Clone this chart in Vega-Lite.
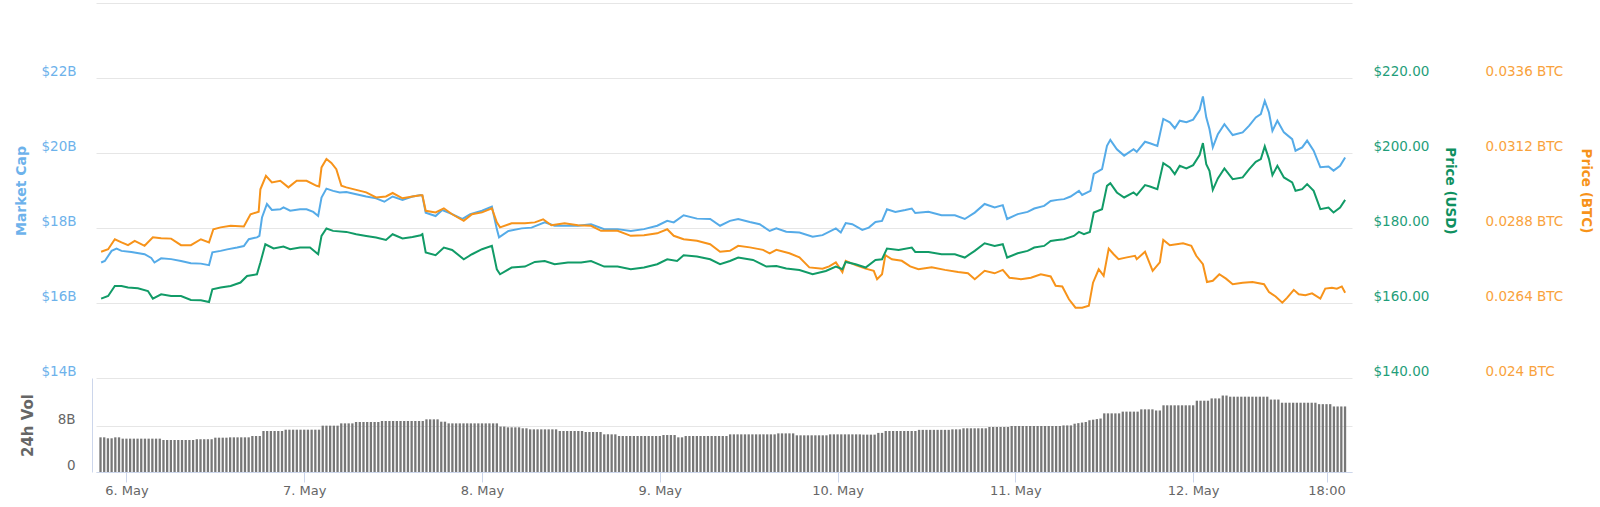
{
  "$schema": "https://vega.github.io/schema/vega-lite/v6.json",
  "description": "Market cap, price (USD), price (BTC) and 24h volume over 7 days.",
  "autosize": "none",
  "width": 1256,
  "height": 469,
  "padding": {"left": 96, "top": 3, "right": 248, "bottom": 35},
  "background": "white",
  "datasets": {
    "mc": [
      {"t": "2019-05-05T20:35", "v": 17.08}, {"t": "2019-05-05T21:05", "v": 17.12}, {"t": "2019-05-05T22:00", "v": 17.39},
      {"t": "2019-05-05T22:40", "v": 17.45}, {"t": "2019-05-05T23:20", "v": 17.39}, {"t": "2019-05-06T00:40", "v": 17.36},
      {"t": "2019-05-06T02:27", "v": 17.30}, {"t": "2019-05-06T03:21", "v": 17.20}, {"t": "2019-05-06T03:47", "v": 17.08},
      {"t": "2019-05-06T04:41", "v": 17.19}, {"t": "2019-05-06T06:02", "v": 17.17}, {"t": "2019-05-06T07:22", "v": 17.12},
      {"t": "2019-05-06T08:42", "v": 17.06}, {"t": "2019-05-06T10:03", "v": 17.05}, {"t": "2019-05-06T11:09", "v": 17.01},
      {"t": "2019-05-06T11:36", "v": 17.35}, {"t": "2019-05-06T12:43", "v": 17.39}, {"t": "2019-05-06T13:36", "v": 17.43},
      {"t": "2019-05-06T14:57", "v": 17.48}, {"t": "2019-05-06T15:51", "v": 17.52}, {"t": "2019-05-06T16:31", "v": 17.70},
      {"t": "2019-05-06T17:37", "v": 17.75}, {"t": "2019-05-06T17:57", "v": 17.79}, {"t": "2019-05-06T18:18", "v": 18.28},
      {"t": "2019-05-06T18:58", "v": 18.64}, {"t": "2019-05-06T19:38", "v": 18.48}, {"t": "2019-05-06T20:46", "v": 18.50},
      {"t": "2019-05-06T21:12", "v": 18.55}, {"t": "2019-05-06T22:06", "v": 18.46}, {"t": "2019-05-06T23:26", "v": 18.50},
      {"t": "2019-05-07T00:19", "v": 18.50}, {"t": "2019-05-07T01:13", "v": 18.43}, {"t": "2019-05-07T01:53", "v": 18.32},
      {"t": "2019-05-07T02:20", "v": 18.81}, {"t": "2019-05-07T03:00", "v": 19.05}, {"t": "2019-05-07T03:54", "v": 18.99},
      {"t": "2019-05-07T04:48", "v": 18.95}, {"t": "2019-05-07T05:41", "v": 18.96}, {"t": "2019-05-07T07:01", "v": 18.90},
      {"t": "2019-05-07T08:22", "v": 18.84}, {"t": "2019-05-07T09:42", "v": 18.79}, {"t": "2019-05-07T10:49", "v": 18.70},
      {"t": "2019-05-07T11:56", "v": 18.84}, {"t": "2019-05-07T13:16", "v": 18.75}, {"t": "2019-05-07T14:37", "v": 18.84},
      {"t": "2019-05-07T15:44", "v": 18.88}, {"t": "2019-05-07T15:57", "v": 18.86}, {"t": "2019-05-07T16:24", "v": 18.41},
      {"t": "2019-05-07T17:44", "v": 18.32}, {"t": "2019-05-07T18:38", "v": 18.48}, {"t": "2019-05-07T19:58", "v": 18.37},
      {"t": "2019-05-07T21:19", "v": 18.24}, {"t": "2019-05-07T22:25", "v": 18.37}, {"t": "2019-05-08T00:00", "v": 18.46},
      {"t": "2019-05-08T01:20", "v": 18.57}, {"t": "2019-05-08T02:00", "v": 17.97}, {"t": "2019-05-08T02:18", "v": 17.75},
      {"t": "2019-05-08T03:34", "v": 17.92}, {"t": "2019-05-08T05:21", "v": 17.99}, {"t": "2019-05-08T06:41", "v": 18.01},
      {"t": "2019-05-08T08:28", "v": 18.15}, {"t": "2019-05-08T09:48", "v": 18.06}, {"t": "2019-05-08T11:36", "v": 18.06},
      {"t": "2019-05-08T12:56", "v": 18.06}, {"t": "2019-05-08T14:43", "v": 18.10}, {"t": "2019-05-08T16:30", "v": 17.97},
      {"t": "2019-05-08T18:18", "v": 17.97}, {"t": "2019-05-08T20:05", "v": 17.92}, {"t": "2019-05-08T21:52", "v": 17.97},
      {"t": "2019-05-08T23:39", "v": 18.06}, {"t": "2019-05-09T01:00", "v": 18.19}, {"t": "2019-05-09T01:53", "v": 18.15},
      {"t": "2019-05-09T03:13", "v": 18.34}, {"t": "2019-05-09T05:01", "v": 18.25}, {"t": "2019-05-09T06:48", "v": 18.24},
      {"t": "2019-05-09T08:08", "v": 18.06}, {"t": "2019-05-09T09:28", "v": 18.19}, {"t": "2019-05-09T10:35", "v": 18.24},
      {"t": "2019-05-09T12:09", "v": 18.16}, {"t": "2019-05-09T13:29", "v": 18.10}, {"t": "2019-05-09T14:50", "v": 17.92},
      {"t": "2019-05-09T15:44", "v": 17.99}, {"t": "2019-05-09T17:04", "v": 17.90}, {"t": "2019-05-09T18:51", "v": 17.88},
      {"t": "2019-05-09T20:38", "v": 17.77}, {"t": "2019-05-09T21:58", "v": 17.81}, {"t": "2019-05-09T23:46", "v": 17.99},
      {"t": "2019-05-10T00:26", "v": 17.88}, {"t": "2019-05-10T01:06", "v": 18.13}, {"t": "2019-05-10T01:59", "v": 18.10},
      {"t": "2019-05-10T03:20", "v": 17.95}, {"t": "2019-05-10T04:13", "v": 18.01}, {"t": "2019-05-10T05:07", "v": 18.16},
      {"t": "2019-05-10T06:00", "v": 18.19}, {"t": "2019-05-10T06:40", "v": 18.50}, {"t": "2019-05-10T07:48", "v": 18.43},
      {"t": "2019-05-10T09:08", "v": 18.48}, {"t": "2019-05-10T10:01", "v": 18.52}, {"t": "2019-05-10T10:29", "v": 18.40},
      {"t": "2019-05-10T12:16", "v": 18.43}, {"t": "2019-05-10T14:02", "v": 18.34}, {"t": "2019-05-10T15:50", "v": 18.34},
      {"t": "2019-05-10T17:10", "v": 18.24}, {"t": "2019-05-10T18:31", "v": 18.41}, {"t": "2019-05-10T19:51", "v": 18.64},
      {"t": "2019-05-10T21:12", "v": 18.55}, {"t": "2019-05-10T22:18", "v": 18.61}, {"t": "2019-05-10T22:53", "v": 18.24},
      {"t": "2019-05-11T00:19", "v": 18.37}, {"t": "2019-05-11T01:39", "v": 18.43}, {"t": "2019-05-11T02:33", "v": 18.52},
      {"t": "2019-05-11T03:53", "v": 18.59}, {"t": "2019-05-11T04:46", "v": 18.72}, {"t": "2019-05-11T05:40", "v": 18.75},
      {"t": "2019-05-11T06:34", "v": 18.77}, {"t": "2019-05-11T07:27", "v": 18.84}, {"t": "2019-05-11T08:35", "v": 18.99},
      {"t": "2019-05-11T09:01", "v": 18.88}, {"t": "2019-05-11T10:08", "v": 18.99}, {"t": "2019-05-11T10:35", "v": 19.44},
      {"t": "2019-05-11T11:42", "v": 19.57}, {"t": "2019-05-11T12:22", "v": 20.19}, {"t": "2019-05-11T12:49", "v": 20.35},
      {"t": "2019-05-11T13:42", "v": 20.10}, {"t": "2019-05-11T14:41", "v": 19.93}, {"t": "2019-05-11T15:57", "v": 20.10},
      {"t": "2019-05-11T16:23", "v": 20.03}, {"t": "2019-05-11T17:30", "v": 20.30}, {"t": "2019-05-11T18:10", "v": 20.26},
      {"t": "2019-05-11T19:10", "v": 20.19}, {"t": "2019-05-11T19:58", "v": 20.91}, {"t": "2019-05-11T20:51", "v": 20.82},
      {"t": "2019-05-11T21:31", "v": 20.66}, {"t": "2019-05-11T22:11", "v": 20.86}, {"t": "2019-05-11T23:05", "v": 20.82},
      {"t": "2019-05-12T00:00", "v": 20.89}, {"t": "2019-05-12T00:52", "v": 21.15}, {"t": "2019-05-12T01:19", "v": 21.51},
      {"t": "2019-05-12T01:46", "v": 20.95}, {"t": "2019-05-12T02:12", "v": 20.64}, {"t": "2019-05-12T02:39", "v": 20.15},
      {"t": "2019-05-12T03:20", "v": 20.50}, {"t": "2019-05-12T04:13", "v": 20.77}, {"t": "2019-05-12T05:20", "v": 20.48},
      {"t": "2019-05-12T06:41", "v": 20.55}, {"t": "2019-05-12T07:34", "v": 20.73}, {"t": "2019-05-12T08:27", "v": 20.95},
      {"t": "2019-05-12T09:08", "v": 21.04}, {"t": "2019-05-12T09:40", "v": 21.39}, {"t": "2019-05-12T10:14", "v": 21.08},
      {"t": "2019-05-12T10:42", "v": 20.59}, {"t": "2019-05-12T11:22", "v": 20.86}, {"t": "2019-05-12T12:15", "v": 20.55},
      {"t": "2019-05-12T13:22", "v": 20.37}, {"t": "2019-05-12T13:49", "v": 20.06}, {"t": "2019-05-12T14:43", "v": 20.15},
      {"t": "2019-05-12T15:23", "v": 20.33}, {"t": "2019-05-12T16:16", "v": 20.06}, {"t": "2019-05-12T17:10", "v": 19.62},
      {"t": "2019-05-12T18:16", "v": 19.64}, {"t": "2019-05-12T18:57", "v": 19.53}, {"t": "2019-05-12T19:50", "v": 19.66},
      {"t": "2019-05-12T20:31", "v": 19.88}
    ],
    "usd": [
      {"t": "2019-05-05T20:35", "v": 161.17}, {"t": "2019-05-05T21:32", "v": 161.87}, {"t": "2019-05-05T22:26", "v": 164.54},
      {"t": "2019-05-05T23:20", "v": 164.54}, {"t": "2019-05-06T00:13", "v": 164.11}, {"t": "2019-05-06T01:33", "v": 163.92},
      {"t": "2019-05-06T02:54", "v": 163.20}, {"t": "2019-05-06T03:34", "v": 161.17}, {"t": "2019-05-06T04:41", "v": 162.32},
      {"t": "2019-05-06T06:02", "v": 161.87}, {"t": "2019-05-06T07:22", "v": 161.87}, {"t": "2019-05-06T08:42", "v": 160.80},
      {"t": "2019-05-06T10:03", "v": 160.72}, {"t": "2019-05-06T11:09", "v": 160.27}, {"t": "2019-05-06T11:36", "v": 163.66},
      {"t": "2019-05-06T12:43", "v": 164.11}, {"t": "2019-05-06T14:04", "v": 164.54}, {"t": "2019-05-06T15:24", "v": 165.45},
      {"t": "2019-05-06T16:17", "v": 167.21}, {"t": "2019-05-06T17:37", "v": 167.66}, {"t": "2019-05-06T18:05", "v": 170.79},
      {"t": "2019-05-06T18:45", "v": 175.67}, {"t": "2019-05-06T19:52", "v": 174.53}, {"t": "2019-05-06T21:12", "v": 175.06},
      {"t": "2019-05-06T22:06", "v": 174.34}, {"t": "2019-05-06T23:26", "v": 174.79}, {"t": "2019-05-07T00:47", "v": 174.79},
      {"t": "2019-05-07T01:53", "v": 173.00}, {"t": "2019-05-07T02:20", "v": 177.89}, {"t": "2019-05-07T03:00", "v": 179.87},
      {"t": "2019-05-07T03:54", "v": 179.23}, {"t": "2019-05-07T05:41", "v": 178.96}, {"t": "2019-05-07T07:01", "v": 178.34},
      {"t": "2019-05-07T08:22", "v": 177.89}, {"t": "2019-05-07T09:42", "v": 177.46}, {"t": "2019-05-07T11:02", "v": 176.82},
      {"t": "2019-05-07T11:56", "v": 178.34}, {"t": "2019-05-07T13:16", "v": 177.20}, {"t": "2019-05-07T14:37", "v": 177.60},
      {"t": "2019-05-07T15:44", "v": 178.08}, {"t": "2019-05-07T15:57", "v": 178.34}, {"t": "2019-05-07T16:24", "v": 173.46},
      {"t": "2019-05-07T17:44", "v": 172.74}, {"t": "2019-05-07T18:51", "v": 174.79}, {"t": "2019-05-07T19:58", "v": 174.15},
      {"t": "2019-05-07T21:32", "v": 171.67}, {"t": "2019-05-07T22:39", "v": 173.00}, {"t": "2019-05-08T00:00", "v": 174.34},
      {"t": "2019-05-08T01:20", "v": 175.22}, {"t": "2019-05-08T02:00", "v": 169.00}, {"t": "2019-05-08T02:26", "v": 167.66},
      {"t": "2019-05-08T04:00", "v": 169.45}, {"t": "2019-05-08T05:47", "v": 169.72}, {"t": "2019-05-08T07:08", "v": 170.95},
      {"t": "2019-05-08T08:28", "v": 171.21}, {"t": "2019-05-08T09:48", "v": 170.33}, {"t": "2019-05-08T11:36", "v": 170.79},
      {"t": "2019-05-08T13:23", "v": 170.79}, {"t": "2019-05-08T14:43", "v": 171.21}, {"t": "2019-05-08T16:30", "v": 169.72},
      {"t": "2019-05-08T18:18", "v": 169.72}, {"t": "2019-05-08T20:05", "v": 169.00}, {"t": "2019-05-08T21:52", "v": 169.45},
      {"t": "2019-05-08T23:39", "v": 170.33}, {"t": "2019-05-09T01:00", "v": 171.67}, {"t": "2019-05-09T02:20", "v": 171.21},
      {"t": "2019-05-09T03:13", "v": 172.74}, {"t": "2019-05-09T05:01", "v": 172.39}, {"t": "2019-05-09T06:48", "v": 171.67},
      {"t": "2019-05-09T08:08", "v": 170.33}, {"t": "2019-05-09T09:28", "v": 171.21}, {"t": "2019-05-09T10:35", "v": 172.12},
      {"t": "2019-05-09T12:35", "v": 171.48}, {"t": "2019-05-09T14:23", "v": 169.72}, {"t": "2019-05-09T15:44", "v": 169.88},
      {"t": "2019-05-09T17:04", "v": 169.19}, {"t": "2019-05-09T18:51", "v": 168.81}, {"t": "2019-05-09T20:38", "v": 167.66},
      {"t": "2019-05-09T22:25", "v": 168.54}, {"t": "2019-05-09T23:46", "v": 169.72}, {"t": "2019-05-10T00:39", "v": 169.00},
      {"t": "2019-05-10T01:06", "v": 170.95}, {"t": "2019-05-10T02:26", "v": 170.33}, {"t": "2019-05-10T03:47", "v": 169.45},
      {"t": "2019-05-10T05:07", "v": 171.48}, {"t": "2019-05-10T06:00", "v": 171.67}, {"t": "2019-05-10T06:40", "v": 174.53},
      {"t": "2019-05-10T08:14", "v": 174.15}, {"t": "2019-05-10T10:01", "v": 174.79}, {"t": "2019-05-10T10:29", "v": 173.62},
      {"t": "2019-05-10T12:16", "v": 173.62}, {"t": "2019-05-10T14:02", "v": 173.00}, {"t": "2019-05-10T15:50", "v": 173.00},
      {"t": "2019-05-10T17:10", "v": 172.12}, {"t": "2019-05-10T18:31", "v": 173.89}, {"t": "2019-05-10T19:51", "v": 175.94},
      {"t": "2019-05-10T21:12", "v": 175.22}, {"t": "2019-05-10T22:18", "v": 175.67}, {"t": "2019-05-10T22:53", "v": 172.12},
      {"t": "2019-05-11T00:19", "v": 173.27}, {"t": "2019-05-11T01:39", "v": 173.89}, {"t": "2019-05-11T02:33", "v": 174.79},
      {"t": "2019-05-11T03:53", "v": 175.22}, {"t": "2019-05-11T04:46", "v": 176.56}, {"t": "2019-05-11T05:40", "v": 176.82},
      {"t": "2019-05-11T06:34", "v": 177.01}, {"t": "2019-05-11T07:54", "v": 177.89}, {"t": "2019-05-11T08:35", "v": 178.96},
      {"t": "2019-05-11T09:15", "v": 178.34}, {"t": "2019-05-11T10:03", "v": 178.96}, {"t": "2019-05-11T10:35", "v": 184.14},
      {"t": "2019-05-11T11:42", "v": 185.02}, {"t": "2019-05-11T12:22", "v": 191.24}, {"t": "2019-05-11T12:49", "v": 191.96},
      {"t": "2019-05-11T13:42", "v": 189.48}, {"t": "2019-05-11T14:41", "v": 188.14}, {"t": "2019-05-11T15:57", "v": 189.48},
      {"t": "2019-05-11T16:23", "v": 188.76}, {"t": "2019-05-11T17:30", "v": 191.43}, {"t": "2019-05-11T18:10", "v": 191.08},
      {"t": "2019-05-11T19:10", "v": 190.36}, {"t": "2019-05-11T19:58", "v": 197.30}, {"t": "2019-05-11T20:51", "v": 196.15},
      {"t": "2019-05-11T21:31", "v": 194.37}, {"t": "2019-05-11T22:11", "v": 196.58}, {"t": "2019-05-11T23:05", "v": 195.89},
      {"t": "2019-05-12T00:00", "v": 196.77}, {"t": "2019-05-12T00:52", "v": 199.44}, {"t": "2019-05-12T01:19", "v": 202.64},
      {"t": "2019-05-12T01:46", "v": 197.04}, {"t": "2019-05-12T02:12", "v": 195.25}, {"t": "2019-05-12T02:39", "v": 190.17},
      {"t": "2019-05-12T03:20", "v": 193.22}, {"t": "2019-05-12T04:13", "v": 195.89}, {"t": "2019-05-12T05:20", "v": 193.03},
      {"t": "2019-05-12T06:41", "v": 193.48}, {"t": "2019-05-12T07:34", "v": 195.70}, {"t": "2019-05-12T08:27", "v": 197.65},
      {"t": "2019-05-12T09:08", "v": 198.37}, {"t": "2019-05-12T09:40", "v": 201.76}, {"t": "2019-05-12T10:14", "v": 198.37},
      {"t": "2019-05-12T10:42", "v": 194.10}, {"t": "2019-05-12T11:22", "v": 196.58}, {"t": "2019-05-12T12:15", "v": 193.48},
      {"t": "2019-05-12T13:22", "v": 192.15}, {"t": "2019-05-12T13:49", "v": 189.91}, {"t": "2019-05-12T14:43", "v": 190.36},
      {"t": "2019-05-12T15:23", "v": 191.70}, {"t": "2019-05-12T16:16", "v": 189.91}, {"t": "2019-05-12T17:10", "v": 185.02},
      {"t": "2019-05-12T18:16", "v": 185.47}, {"t": "2019-05-12T18:57", "v": 184.14}, {"t": "2019-05-12T19:50", "v": 185.47},
      {"t": "2019-05-12T20:31", "v": 187.50}
    ],
    "btc": [
      {"t": "2019-05-05T20:35", "v": 0.02804}, {"t": "2019-05-05T21:32", "v": 0.02812}, {"t": "2019-05-05T22:26", "v": 0.02844},
      {"t": "2019-05-05T23:20", "v": 0.02834}, {"t": "2019-05-06T00:13", "v": 0.02825}, {"t": "2019-05-06T01:07", "v": 0.02839},
      {"t": "2019-05-06T02:27", "v": 0.02823}, {"t": "2019-05-06T03:34", "v": 0.0285}, {"t": "2019-05-06T04:41", "v": 0.02847},
      {"t": "2019-05-06T06:02", "v": 0.02846}, {"t": "2019-05-06T07:22", "v": 0.02825}, {"t": "2019-05-06T08:42", "v": 0.02825},
      {"t": "2019-05-06T10:03", "v": 0.02844}, {"t": "2019-05-06T11:09", "v": 0.02834}, {"t": "2019-05-06T11:44", "v": 0.02876},
      {"t": "2019-05-06T12:43", "v": 0.02882}, {"t": "2019-05-06T14:04", "v": 0.02887}, {"t": "2019-05-06T15:51", "v": 0.02885},
      {"t": "2019-05-06T16:45", "v": 0.02924}, {"t": "2019-05-06T17:51", "v": 0.02932}, {"t": "2019-05-06T18:05", "v": 0.03004},
      {"t": "2019-05-06T18:50", "v": 0.03047}, {"t": "2019-05-06T19:38", "v": 0.03026}, {"t": "2019-05-06T20:46", "v": 0.03031},
      {"t": "2019-05-06T21:52", "v": 0.0301}, {"t": "2019-05-06T22:59", "v": 0.03031}, {"t": "2019-05-07T00:19", "v": 0.03031},
      {"t": "2019-05-07T01:40", "v": 0.03015}, {"t": "2019-05-07T02:01", "v": 0.03013}, {"t": "2019-05-07T02:20", "v": 0.03074},
      {"t": "2019-05-07T03:00", "v": 0.03101}, {"t": "2019-05-07T03:40", "v": 0.03088}, {"t": "2019-05-07T04:20", "v": 0.03068},
      {"t": "2019-05-07T05:01", "v": 0.03015}, {"t": "2019-05-07T05:41", "v": 0.0301}, {"t": "2019-05-07T07:01", "v": 0.03002},
      {"t": "2019-05-07T08:22", "v": 0.02994}, {"t": "2019-05-07T09:42", "v": 0.02978}, {"t": "2019-05-07T11:02", "v": 0.02981},
      {"t": "2019-05-07T11:56", "v": 0.02992}, {"t": "2019-05-07T13:16", "v": 0.02975}, {"t": "2019-05-07T14:37", "v": 0.02981},
      {"t": "2019-05-07T15:44", "v": 0.02985}, {"t": "2019-05-07T15:57", "v": 0.02985}, {"t": "2019-05-07T16:24", "v": 0.02935},
      {"t": "2019-05-07T17:44", "v": 0.0293}, {"t": "2019-05-07T18:51", "v": 0.02943}, {"t": "2019-05-07T19:58", "v": 0.02924},
      {"t": "2019-05-07T21:32", "v": 0.02903}, {"t": "2019-05-07T22:39", "v": 0.02924}, {"t": "2019-05-08T00:00", "v": 0.0293},
      {"t": "2019-05-08T01:20", "v": 0.02943}, {"t": "2019-05-08T02:00", "v": 0.02898}, {"t": "2019-05-08T02:26", "v": 0.02882},
      {"t": "2019-05-08T04:00", "v": 0.02895}, {"t": "2019-05-08T05:47", "v": 0.02895}, {"t": "2019-05-08T07:08", "v": 0.02898},
      {"t": "2019-05-08T08:15", "v": 0.02908}, {"t": "2019-05-08T09:22", "v": 0.02889}, {"t": "2019-05-08T11:09", "v": 0.02895},
      {"t": "2019-05-08T12:56", "v": 0.02889}, {"t": "2019-05-08T14:43", "v": 0.02887}, {"t": "2019-05-08T16:04", "v": 0.02871},
      {"t": "2019-05-08T18:18", "v": 0.02871}, {"t": "2019-05-08T20:05", "v": 0.02855}, {"t": "2019-05-08T21:52", "v": 0.02857},
      {"t": "2019-05-08T23:39", "v": 0.02863}, {"t": "2019-05-09T01:00", "v": 0.02876}, {"t": "2019-05-09T01:53", "v": 0.02855},
      {"t": "2019-05-09T03:13", "v": 0.02844}, {"t": "2019-05-09T05:01", "v": 0.02839}, {"t": "2019-05-09T06:48", "v": 0.02828},
      {"t": "2019-05-09T08:08", "v": 0.02804}, {"t": "2019-05-09T09:28", "v": 0.02807}, {"t": "2019-05-09T10:35", "v": 0.02823},
      {"t": "2019-05-09T12:09", "v": 0.02818}, {"t": "2019-05-09T13:56", "v": 0.0281}, {"t": "2019-05-09T14:50", "v": 0.02799},
      {"t": "2019-05-09T15:44", "v": 0.0281}, {"t": "2019-05-09T17:30", "v": 0.02799}, {"t": "2019-05-09T18:51", "v": 0.02786},
      {"t": "2019-05-09T20:11", "v": 0.02754}, {"t": "2019-05-09T21:58", "v": 0.0275}, {"t": "2019-05-09T22:52", "v": 0.02757},
      {"t": "2019-05-09T23:46", "v": 0.0277}, {"t": "2019-05-10T00:39", "v": 0.02739}, {"t": "2019-05-10T01:06", "v": 0.02775},
      {"t": "2019-05-10T02:26", "v": 0.02761}, {"t": "2019-05-10T03:47", "v": 0.0275}, {"t": "2019-05-10T04:53", "v": 0.02743},
      {"t": "2019-05-10T05:20", "v": 0.02716}, {"t": "2019-05-10T06:00", "v": 0.02732}, {"t": "2019-05-10T06:27", "v": 0.02793},
      {"t": "2019-05-10T07:20", "v": 0.0278}, {"t": "2019-05-10T08:40", "v": 0.02775}, {"t": "2019-05-10T09:48", "v": 0.02757},
      {"t": "2019-05-10T10:55", "v": 0.02748}, {"t": "2019-05-10T12:42", "v": 0.02754}, {"t": "2019-05-10T14:29", "v": 0.02746},
      {"t": "2019-05-10T16:16", "v": 0.02739}, {"t": "2019-05-10T17:36", "v": 0.02735}, {"t": "2019-05-10T18:31", "v": 0.02716},
      {"t": "2019-05-10T19:51", "v": 0.02743}, {"t": "2019-05-10T21:12", "v": 0.02735}, {"t": "2019-05-10T22:18", "v": 0.02746},
      {"t": "2019-05-10T23:12", "v": 0.02721}, {"t": "2019-05-11T00:45", "v": 0.02716}, {"t": "2019-05-11T02:06", "v": 0.02721},
      {"t": "2019-05-11T03:26", "v": 0.02732}, {"t": "2019-05-11T04:46", "v": 0.02725}, {"t": "2019-05-11T05:26", "v": 0.02695},
      {"t": "2019-05-11T06:20", "v": 0.02693}, {"t": "2019-05-11T07:14", "v": 0.02652}, {"t": "2019-05-11T08:07", "v": 0.02625},
      {"t": "2019-05-11T09:01", "v": 0.02625}, {"t": "2019-05-11T09:55", "v": 0.02631}, {"t": "2019-05-11T10:29", "v": 0.02705},
      {"t": "2019-05-11T11:15", "v": 0.02748}, {"t": "2019-05-11T11:55", "v": 0.02727}, {"t": "2019-05-11T12:36", "v": 0.02814},
      {"t": "2019-05-11T13:16", "v": 0.02796}, {"t": "2019-05-11T13:56", "v": 0.0278}, {"t": "2019-05-11T15:03", "v": 0.02786},
      {"t": "2019-05-11T16:09", "v": 0.02791}, {"t": "2019-05-11T16:23", "v": 0.0278}, {"t": "2019-05-11T17:30", "v": 0.02804},
      {"t": "2019-05-11T18:32", "v": 0.02743}, {"t": "2019-05-11T19:30", "v": 0.0277}, {"t": "2019-05-11T19:58", "v": 0.02842},
      {"t": "2019-05-11T20:51", "v": 0.02825}, {"t": "2019-05-11T21:45", "v": 0.02828}, {"t": "2019-05-11T22:38", "v": 0.02831},
      {"t": "2019-05-11T23:45", "v": 0.02823}, {"t": "2019-05-12T00:25", "v": 0.02791}, {"t": "2019-05-12T01:19", "v": 0.02764},
      {"t": "2019-05-12T01:52", "v": 0.02707}, {"t": "2019-05-12T02:39", "v": 0.02711}, {"t": "2019-05-12T03:32", "v": 0.02732},
      {"t": "2019-05-12T04:26", "v": 0.02718}, {"t": "2019-05-12T05:20", "v": 0.027}, {"t": "2019-05-12T06:41", "v": 0.02705},
      {"t": "2019-05-12T08:01", "v": 0.02707}, {"t": "2019-05-12T09:34", "v": 0.027}, {"t": "2019-05-12T10:14", "v": 0.02675},
      {"t": "2019-05-12T11:08", "v": 0.02661}, {"t": "2019-05-12T12:02", "v": 0.02641}, {"t": "2019-05-12T12:42", "v": 0.02657},
      {"t": "2019-05-12T13:35", "v": 0.02682}, {"t": "2019-05-12T14:15", "v": 0.02668}, {"t": "2019-05-12T15:09", "v": 0.02665},
      {"t": "2019-05-12T16:03", "v": 0.02671}, {"t": "2019-05-12T17:10", "v": 0.02654}, {"t": "2019-05-12T17:50", "v": 0.02686},
      {"t": "2019-05-12T18:44", "v": 0.02689}, {"t": "2019-05-12T19:24", "v": 0.02686}, {"t": "2019-05-12T20:04", "v": 0.02693},
      {"t": "2019-05-12T20:31", "v": 0.02673}
    ],
    "vol": [
      {"t": "2019-05-05T20:30", "v": 6.03}, {"t": "2019-05-05T21:00", "v": 6.03}, {"t": "2019-05-05T21:30", "v": 5.86}, {"t": "2019-05-05T22:00", "v": 5.86},
      {"t": "2019-05-05T22:30", "v": 6.03}, {"t": "2019-05-05T23:00", "v": 6.03}, {"t": "2019-05-05T23:30", "v": 5.8},
      {"t": "2019-05-06T00:00", "v": 5.8}, {"t": "2019-05-06T00:30", "v": 5.8}, {"t": "2019-05-06T01:00", "v": 5.8}, {"t": "2019-05-06T01:30", "v": 5.8},
      {"t": "2019-05-06T02:00", "v": 5.8}, {"t": "2019-05-06T02:30", "v": 5.8}, {"t": "2019-05-06T03:00", "v": 5.8}, {"t": "2019-05-06T03:30", "v": 5.8},
      {"t": "2019-05-06T04:00", "v": 5.8}, {"t": "2019-05-06T04:30", "v": 5.8}, {"t": "2019-05-06T05:00", "v": 5.57}, {"t": "2019-05-06T05:30", "v": 5.57},
      {"t": "2019-05-06T06:00", "v": 5.57}, {"t": "2019-05-06T06:30", "v": 5.57}, {"t": "2019-05-06T07:00", "v": 5.57}, {"t": "2019-05-06T07:30", "v": 5.57},
      {"t": "2019-05-06T08:00", "v": 5.57}, {"t": "2019-05-06T08:30", "v": 5.57}, {"t": "2019-05-06T09:00", "v": 5.57}, {"t": "2019-05-06T09:30", "v": 5.7},
      {"t": "2019-05-06T10:00", "v": 5.7}, {"t": "2019-05-06T10:30", "v": 5.7}, {"t": "2019-05-06T11:00", "v": 5.7}, {"t": "2019-05-06T11:30", "v": 5.7},
      {"t": "2019-05-06T12:00", "v": 5.97}, {"t": "2019-05-06T12:30", "v": 5.97}, {"t": "2019-05-06T13:00", "v": 5.97}, {"t": "2019-05-06T13:30", "v": 5.97},
      {"t": "2019-05-06T14:00", "v": 6.03}, {"t": "2019-05-06T14:30", "v": 6.03}, {"t": "2019-05-06T15:00", "v": 6.03}, {"t": "2019-05-06T15:30", "v": 6.03},
      {"t": "2019-05-06T16:00", "v": 6.03}, {"t": "2019-05-06T16:30", "v": 6.03}, {"t": "2019-05-06T17:00", "v": 6.26}, {"t": "2019-05-06T17:30", "v": 6.26},
      {"t": "2019-05-06T18:00", "v": 6.26}, {"t": "2019-05-06T18:30", "v": 7.13}, {"t": "2019-05-06T19:00", "v": 7.13}, {"t": "2019-05-06T19:30", "v": 7.13},
      {"t": "2019-05-06T20:00", "v": 7.13}, {"t": "2019-05-06T20:30", "v": 7.13}, {"t": "2019-05-06T21:00", "v": 7.13}, {"t": "2019-05-06T21:30", "v": 7.36},
      {"t": "2019-05-06T22:00", "v": 7.36}, {"t": "2019-05-06T22:30", "v": 7.36}, {"t": "2019-05-06T23:00", "v": 7.36}, {"t": "2019-05-06T23:30", "v": 7.36},
      {"t": "2019-05-07T00:00", "v": 7.36}, {"t": "2019-05-07T00:30", "v": 7.36}, {"t": "2019-05-07T01:00", "v": 7.36}, {"t": "2019-05-07T01:30", "v": 7.36},
      {"t": "2019-05-07T02:00", "v": 7.36}, {"t": "2019-05-07T02:30", "v": 8.06}, {"t": "2019-05-07T03:00", "v": 8.06}, {"t": "2019-05-07T03:30", "v": 8.06},
      {"t": "2019-05-07T04:00", "v": 8.06}, {"t": "2019-05-07T04:30", "v": 8.06}, {"t": "2019-05-07T05:00", "v": 8.46}, {"t": "2019-05-07T05:30", "v": 8.46},
      {"t": "2019-05-07T06:00", "v": 8.46}, {"t": "2019-05-07T06:30", "v": 8.46}, {"t": "2019-05-07T07:00", "v": 8.7}, {"t": "2019-05-07T07:30", "v": 8.7},
      {"t": "2019-05-07T08:00", "v": 8.7}, {"t": "2019-05-07T08:30", "v": 8.7}, {"t": "2019-05-07T09:00", "v": 8.7}, {"t": "2019-05-07T09:30", "v": 8.7},
      {"t": "2019-05-07T10:00", "v": 8.7}, {"t": "2019-05-07T10:30", "v": 8.87}, {"t": "2019-05-07T11:00", "v": 8.87}, {"t": "2019-05-07T11:30", "v": 8.87},
      {"t": "2019-05-07T12:00", "v": 8.87}, {"t": "2019-05-07T12:30", "v": 8.87}, {"t": "2019-05-07T13:00", "v": 8.87}, {"t": "2019-05-07T13:30", "v": 8.87},
      {"t": "2019-05-07T14:00", "v": 8.87}, {"t": "2019-05-07T14:30", "v": 8.87}, {"t": "2019-05-07T15:00", "v": 8.87}, {"t": "2019-05-07T15:30", "v": 8.87},
      {"t": "2019-05-07T16:00", "v": 8.87}, {"t": "2019-05-07T16:30", "v": 9.16}, {"t": "2019-05-07T17:00", "v": 9.16}, {"t": "2019-05-07T17:30", "v": 9.16},
      {"t": "2019-05-07T18:00", "v": 9.16}, {"t": "2019-05-07T18:30", "v": 8.75}, {"t": "2019-05-07T19:00", "v": 8.75}, {"t": "2019-05-07T19:30", "v": 8.46},
      {"t": "2019-05-07T20:00", "v": 8.46}, {"t": "2019-05-07T20:30", "v": 8.46}, {"t": "2019-05-07T21:00", "v": 8.46}, {"t": "2019-05-07T21:30", "v": 8.46},
      {"t": "2019-05-07T22:00", "v": 8.46}, {"t": "2019-05-07T22:30", "v": 8.46}, {"t": "2019-05-07T23:00", "v": 8.46}, {"t": "2019-05-07T23:30", "v": 8.46},
      {"t": "2019-05-08T00:00", "v": 8.46}, {"t": "2019-05-08T00:30", "v": 8.46}, {"t": "2019-05-08T01:00", "v": 8.46}, {"t": "2019-05-08T01:30", "v": 8.46},
      {"t": "2019-05-08T02:00", "v": 8.46}, {"t": "2019-05-08T02:30", "v": 7.9}, {"t": "2019-05-08T03:00", "v": 7.9}, {"t": "2019-05-08T03:30", "v": 7.77},
      {"t": "2019-05-08T04:00", "v": 7.77}, {"t": "2019-05-08T04:30", "v": 7.77}, {"t": "2019-05-08T05:00", "v": 7.77}, {"t": "2019-05-08T05:30", "v": 7.6},
      {"t": "2019-05-08T06:00", "v": 7.6}, {"t": "2019-05-08T06:30", "v": 7.42}, {"t": "2019-05-08T07:00", "v": 7.42}, {"t": "2019-05-08T07:30", "v": 7.42},
      {"t": "2019-05-08T08:00", "v": 7.42}, {"t": "2019-05-08T08:30", "v": 7.42}, {"t": "2019-05-08T09:00", "v": 7.42}, {"t": "2019-05-08T09:30", "v": 7.42},
      {"t": "2019-05-08T10:00", "v": 7.42}, {"t": "2019-05-08T10:30", "v": 7.13}, {"t": "2019-05-08T11:00", "v": 7.13}, {"t": "2019-05-08T11:30", "v": 7.13},
      {"t": "2019-05-08T12:00", "v": 7.13}, {"t": "2019-05-08T12:30", "v": 7.13}, {"t": "2019-05-08T13:00", "v": 7.13}, {"t": "2019-05-08T13:30", "v": 7.13},
      {"t": "2019-05-08T14:00", "v": 6.96}, {"t": "2019-05-08T14:30", "v": 6.96}, {"t": "2019-05-08T15:00", "v": 6.96}, {"t": "2019-05-08T15:30", "v": 6.96},
      {"t": "2019-05-08T16:00", "v": 6.96}, {"t": "2019-05-08T16:30", "v": 6.55}, {"t": "2019-05-08T17:00", "v": 6.55}, {"t": "2019-05-08T17:30", "v": 6.55},
      {"t": "2019-05-08T18:00", "v": 6.55}, {"t": "2019-05-08T18:30", "v": 6.26}, {"t": "2019-05-08T19:00", "v": 6.26}, {"t": "2019-05-08T19:30", "v": 6.26},
      {"t": "2019-05-08T20:00", "v": 6.26}, {"t": "2019-05-08T20:30", "v": 6.26}, {"t": "2019-05-08T21:00", "v": 6.26}, {"t": "2019-05-08T21:30", "v": 6.26},
      {"t": "2019-05-08T22:00", "v": 6.26}, {"t": "2019-05-08T22:30", "v": 6.26}, {"t": "2019-05-08T23:00", "v": 6.26}, {"t": "2019-05-08T23:30", "v": 6.26},
      {"t": "2019-05-09T00:00", "v": 6.26}, {"t": "2019-05-09T00:30", "v": 6.43}, {"t": "2019-05-09T01:00", "v": 6.43}, {"t": "2019-05-09T01:30", "v": 6.43},
      {"t": "2019-05-09T02:00", "v": 6.43}, {"t": "2019-05-09T02:30", "v": 6.03}, {"t": "2019-05-09T03:00", "v": 6.03}, {"t": "2019-05-09T03:30", "v": 6.26},
      {"t": "2019-05-09T04:00", "v": 6.26}, {"t": "2019-05-09T04:30", "v": 6.26}, {"t": "2019-05-09T05:00", "v": 6.26}, {"t": "2019-05-09T05:30", "v": 6.26},
      {"t": "2019-05-09T06:00", "v": 6.26}, {"t": "2019-05-09T06:30", "v": 6.26}, {"t": "2019-05-09T07:00", "v": 6.26}, {"t": "2019-05-09T07:30", "v": 6.26},
      {"t": "2019-05-09T08:00", "v": 6.26}, {"t": "2019-05-09T08:30", "v": 6.26}, {"t": "2019-05-09T09:00", "v": 6.26}, {"t": "2019-05-09T09:30", "v": 6.55},
      {"t": "2019-05-09T10:00", "v": 6.55}, {"t": "2019-05-09T10:30", "v": 6.55}, {"t": "2019-05-09T11:00", "v": 6.55}, {"t": "2019-05-09T11:30", "v": 6.55},
      {"t": "2019-05-09T12:00", "v": 6.55}, {"t": "2019-05-09T12:30", "v": 6.55}, {"t": "2019-05-09T13:00", "v": 6.55}, {"t": "2019-05-09T13:30", "v": 6.55},
      {"t": "2019-05-09T14:00", "v": 6.55}, {"t": "2019-05-09T14:30", "v": 6.55}, {"t": "2019-05-09T15:00", "v": 6.55}, {"t": "2019-05-09T15:30", "v": 6.55},
      {"t": "2019-05-09T16:00", "v": 6.72}, {"t": "2019-05-09T16:30", "v": 6.72}, {"t": "2019-05-09T17:00", "v": 6.72}, {"t": "2019-05-09T17:30", "v": 6.72},
      {"t": "2019-05-09T18:00", "v": 6.72}, {"t": "2019-05-09T18:30", "v": 6.38}, {"t": "2019-05-09T19:00", "v": 6.38}, {"t": "2019-05-09T19:30", "v": 6.38},
      {"t": "2019-05-09T20:00", "v": 6.38}, {"t": "2019-05-09T20:30", "v": 6.38}, {"t": "2019-05-09T21:00", "v": 6.38}, {"t": "2019-05-09T21:30", "v": 6.38},
      {"t": "2019-05-09T22:00", "v": 6.38}, {"t": "2019-05-09T22:30", "v": 6.38}, {"t": "2019-05-09T23:00", "v": 6.55}, {"t": "2019-05-09T23:30", "v": 6.55},
      {"t": "2019-05-10T00:00", "v": 6.55}, {"t": "2019-05-10T00:30", "v": 6.55}, {"t": "2019-05-10T01:00", "v": 6.55}, {"t": "2019-05-10T01:30", "v": 6.55},
      {"t": "2019-05-10T02:00", "v": 6.55}, {"t": "2019-05-10T02:30", "v": 6.55}, {"t": "2019-05-10T03:00", "v": 6.55}, {"t": "2019-05-10T03:30", "v": 6.5},
      {"t": "2019-05-10T04:00", "v": 6.5}, {"t": "2019-05-10T04:30", "v": 6.5}, {"t": "2019-05-10T05:00", "v": 6.5}, {"t": "2019-05-10T05:30", "v": 6.8},
      {"t": "2019-05-10T06:00", "v": 6.8}, {"t": "2019-05-10T06:30", "v": 7.13}, {"t": "2019-05-10T07:00", "v": 7.13}, {"t": "2019-05-10T07:30", "v": 7.13},
      {"t": "2019-05-10T08:00", "v": 7.13}, {"t": "2019-05-10T08:30", "v": 7.13}, {"t": "2019-05-10T09:00", "v": 7.13}, {"t": "2019-05-10T09:30", "v": 7.13},
      {"t": "2019-05-10T10:00", "v": 7.13}, {"t": "2019-05-10T10:30", "v": 7.13}, {"t": "2019-05-10T11:00", "v": 7.33}, {"t": "2019-05-10T11:30", "v": 7.33},
      {"t": "2019-05-10T12:00", "v": 7.33}, {"t": "2019-05-10T12:30", "v": 7.33}, {"t": "2019-05-10T13:00", "v": 7.33}, {"t": "2019-05-10T13:30", "v": 7.33},
      {"t": "2019-05-10T14:00", "v": 7.33}, {"t": "2019-05-10T14:30", "v": 7.33}, {"t": "2019-05-10T15:00", "v": 7.33}, {"t": "2019-05-10T15:30", "v": 7.42},
      {"t": "2019-05-10T16:00", "v": 7.42}, {"t": "2019-05-10T16:30", "v": 7.42}, {"t": "2019-05-10T17:00", "v": 7.6}, {"t": "2019-05-10T17:30", "v": 7.6},
      {"t": "2019-05-10T18:00", "v": 7.6}, {"t": "2019-05-10T18:30", "v": 7.6}, {"t": "2019-05-10T19:00", "v": 7.6}, {"t": "2019-05-10T19:30", "v": 7.6},
      {"t": "2019-05-10T20:00", "v": 7.6}, {"t": "2019-05-10T20:30", "v": 7.83}, {"t": "2019-05-10T21:00", "v": 7.83}, {"t": "2019-05-10T21:30", "v": 7.83},
      {"t": "2019-05-10T22:00", "v": 7.83}, {"t": "2019-05-10T22:30", "v": 7.83}, {"t": "2019-05-10T23:00", "v": 7.83}, {"t": "2019-05-10T23:30", "v": 8.0},
      {"t": "2019-05-11T00:00", "v": 8.0}, {"t": "2019-05-11T00:30", "v": 8.0}, {"t": "2019-05-11T01:00", "v": 8.0}, {"t": "2019-05-11T01:30", "v": 8.0},
      {"t": "2019-05-11T02:00", "v": 8.0}, {"t": "2019-05-11T02:30", "v": 8.0}, {"t": "2019-05-11T03:00", "v": 8.0}, {"t": "2019-05-11T03:30", "v": 8.0},
      {"t": "2019-05-11T04:00", "v": 8.0}, {"t": "2019-05-11T04:30", "v": 8.0}, {"t": "2019-05-11T05:00", "v": 8.0}, {"t": "2019-05-11T05:30", "v": 8.0},
      {"t": "2019-05-11T06:00", "v": 8.0}, {"t": "2019-05-11T06:30", "v": 8.1}, {"t": "2019-05-11T07:00", "v": 8.1}, {"t": "2019-05-11T07:30", "v": 8.1},
      {"t": "2019-05-11T08:00", "v": 8.4}, {"t": "2019-05-11T08:30", "v": 8.5}, {"t": "2019-05-11T09:00", "v": 8.6}, {"t": "2019-05-11T09:30", "v": 8.7},
      {"t": "2019-05-11T10:00", "v": 9.0}, {"t": "2019-05-11T10:30", "v": 9.1}, {"t": "2019-05-11T11:00", "v": 9.2}, {"t": "2019-05-11T11:30", "v": 9.3},
      {"t": "2019-05-11T12:00", "v": 10.2}, {"t": "2019-05-11T12:30", "v": 10.2}, {"t": "2019-05-11T13:00", "v": 10.2}, {"t": "2019-05-11T13:30", "v": 10.2},
      {"t": "2019-05-11T14:00", "v": 10.2}, {"t": "2019-05-11T14:30", "v": 10.5}, {"t": "2019-05-11T15:00", "v": 10.5}, {"t": "2019-05-11T15:30", "v": 10.5},
      {"t": "2019-05-11T16:00", "v": 10.5}, {"t": "2019-05-11T16:30", "v": 10.5}, {"t": "2019-05-11T17:00", "v": 10.9}, {"t": "2019-05-11T17:30", "v": 10.9},
      {"t": "2019-05-11T18:00", "v": 10.9}, {"t": "2019-05-11T18:30", "v": 10.9}, {"t": "2019-05-11T19:00", "v": 10.7}, {"t": "2019-05-11T19:30", "v": 10.7},
      {"t": "2019-05-11T20:00", "v": 11.6}, {"t": "2019-05-11T20:30", "v": 11.6}, {"t": "2019-05-11T21:00", "v": 11.6}, {"t": "2019-05-11T21:30", "v": 11.6},
      {"t": "2019-05-11T22:00", "v": 11.6}, {"t": "2019-05-11T22:30", "v": 11.6}, {"t": "2019-05-11T23:00", "v": 11.6}, {"t": "2019-05-11T23:30", "v": 11.6},
      {"t": "2019-05-12T00:00", "v": 11.6}, {"t": "2019-05-12T00:30", "v": 12.4}, {"t": "2019-05-12T01:00", "v": 12.4}, {"t": "2019-05-12T01:30", "v": 12.4},
      {"t": "2019-05-12T02:00", "v": 12.4}, {"t": "2019-05-12T02:30", "v": 12.8}, {"t": "2019-05-12T03:00", "v": 12.8}, {"t": "2019-05-12T03:30", "v": 12.8},
      {"t": "2019-05-12T04:00", "v": 13.3}, {"t": "2019-05-12T04:30", "v": 13.3}, {"t": "2019-05-12T05:00", "v": 13.1}, {"t": "2019-05-12T05:30", "v": 13.1},
      {"t": "2019-05-12T06:00", "v": 13.1}, {"t": "2019-05-12T06:30", "v": 13.1}, {"t": "2019-05-12T07:00", "v": 13.1}, {"t": "2019-05-12T07:30", "v": 13.1},
      {"t": "2019-05-12T08:00", "v": 13.1}, {"t": "2019-05-12T08:30", "v": 13.1}, {"t": "2019-05-12T09:00", "v": 13.1}, {"t": "2019-05-12T09:30", "v": 13.1},
      {"t": "2019-05-12T10:00", "v": 13.1}, {"t": "2019-05-12T10:30", "v": 12.6}, {"t": "2019-05-12T11:00", "v": 12.6}, {"t": "2019-05-12T11:30", "v": 12.6},
      {"t": "2019-05-12T12:00", "v": 12.05}, {"t": "2019-05-12T12:30", "v": 12.05}, {"t": "2019-05-12T13:00", "v": 12.05}, {"t": "2019-05-12T13:30", "v": 12.05},
      {"t": "2019-05-12T14:00", "v": 12.05}, {"t": "2019-05-12T14:30", "v": 12.05}, {"t": "2019-05-12T15:00", "v": 12.05}, {"t": "2019-05-12T15:30", "v": 12.05},
      {"t": "2019-05-12T16:00", "v": 12.05}, {"t": "2019-05-12T16:30", "v": 12.05}, {"t": "2019-05-12T17:00", "v": 11.8}, {"t": "2019-05-12T17:30", "v": 11.8},
      {"t": "2019-05-12T18:00", "v": 11.8}, {"t": "2019-05-12T18:30", "v": 11.8}, {"t": "2019-05-12T19:00", "v": 11.4}, {"t": "2019-05-12T19:30", "v": 11.4},
      {"t": "2019-05-12T20:00", "v": 11.4}, {"t": "2019-05-12T20:30", "v": 11.4}
    ]
  },
  "encoding": {
    "x": {
      "field": "t",
      "type": "temporal",
      "title": null,
      "scale": {
        "domain": [
          {"year": 2019, "month": 5, "date": 5, "hours": 20, "minutes": 34},
          {"year": 2019, "month": 5, "date": 12, "hours": 20, "minutes": 46}
        ]
      },
      "axis": {
        "values": [
          {"year": 2019, "month": 5, "date": 6},
          {"year": 2019, "month": 5, "date": 7},
          {"year": 2019, "month": 5, "date": 8},
          {"year": 2019, "month": 5, "date": 9},
          {"year": 2019, "month": 5, "date": 10},
          {"year": 2019, "month": 5, "date": 11},
          {"year": 2019, "month": 5, "date": 12},
          {"year": 2019, "month": 5, "date": 12, "hours": 18}
        ],
        "labelExpr": "hours(datum.value) == 0 ? timeFormat(datum.value, '%-d. %b') : timeFormat(datum.value, '%H:%M')",
        "grid": false,
        "domainColor": "#ccd6eb",
        "tickColor": "#ccd6eb",
        "tickSize": 10,
        "labelColor": "#666666",
        "labelFontSize": 13,
        "labelPadding": 2,
        "labelFlush": false,
        "labelOverlap": false
      }
    }
  },
  "layer": [
    {
      "data": {"name": "vol"},
      "mark": {"type": "bar", "size": 2.3, "color": "#777777"},
      "encoding": {
        "y": {
          "field": "v",
          "type": "quantitative",
          "scale": {"domain": [0, 16.35], "range": [469, 375], "nice": false, "zero": true},
          "axis": {
            "orient": "left",
            "offset": 4,
            "title": "24h Vol",
            "titleX": -65,
            "titleY": 422,
            "titleAngle": -90,
            "titleAlign": "center",
            "titleBaseline": "middle",
            "titleColor": "#666666",
            "titleFontSize": 15,
            "titleFontWeight": "bold",
            "values": [0, 8],
            "labelExpr": "datum.value == 0 ? '0' : datum.value + 'B'",
            "labelColor": "#666666",
            "labelFontSize": 13.5,
            "labelBaseline": "alphabetic",
            "labelOffset": -3,
            "labelPadding": 17,
            "ticks": false,
            "tickSize": 0,
            "domain": true,
            "domainColor": "#ccd6eb",
            "grid": true,
            "gridColor": "#e6e6e6"
          }
        }
      }
    },
    {
      "data": {"name": "mc"},
      "mark": {"type": "line", "color": "#55abe8", "strokeWidth": 2},
      "encoding": {
        "y": {
          "field": "v",
          "type": "quantitative",
          "scale": {"domain": [14, 24], "range": [375, 0], "nice": false, "zero": false},
          "axis": {
            "orient": "left",
            "title": "Market Cap",
            "titleX": -75,
            "titleY": 187.5,
            "titleAngle": -90,
            "titleAlign": "center",
            "titleBaseline": "middle",
            "titleColor": "#6db2eb",
            "titleFontSize": 14,
            "titleFontWeight": "bold",
            "values": [14, 16, 18, 20, 22, 24],
            "labelExpr": "datum.value == 24 ? '' : '$' + datum.value + 'B'",
            "labelColor": "#6db2eb",
            "labelFontSize": 13.5,
            "labelBaseline": "alphabetic",
            "labelOffset": -3,
            "labelPadding": 20,
            "ticks": false,
            "tickSize": 0,
            "domain": false,
            "grid": true,
            "gridColor": "#e6e6e6"
          }
        }
      }
    },
    {
      "data": {"name": "btc"},
      "mark": {"type": "line", "color": "#f7931a", "strokeWidth": 2},
      "encoding": {
        "y": {
          "field": "v",
          "type": "quantitative",
          "scale": {"domain": [0.024, 0.036], "range": [375, 0], "nice": false, "zero": false},
          "axis": {
            "orient": "right",
            "offset": 112,
            "title": "Price (BTC)",
            "titleX": 121,
            "titleY": 187.5,
            "titleAngle": 90,
            "titleAlign": "center",
            "titleBaseline": "middle",
            "titleColor": "#f7931a",
            "titleFontSize": 13.5,
            "titleFontWeight": "bold",
            "values": [0.024, 0.0264, 0.0288, 0.0312, 0.0336],
            "labelExpr": "format(datum.value, '.4~f') + ' BTC'",
            "labelColor": "#f9a23c",
            "labelFontSize": 13.5,
            "labelBaseline": "alphabetic",
            "labelOffset": -3,
            "labelPadding": 21,
            "ticks": false,
            "tickSize": 0,
            "domain": false,
            "grid": false
          }
        }
      }
    },
    {
      "data": {"name": "usd"},
      "mark": {"type": "line", "color": "#119b67", "strokeWidth": 2},
      "encoding": {
        "y": {
          "field": "v",
          "type": "quantitative",
          "scale": {"domain": [140, 240], "range": [375, 0], "nice": false, "zero": false},
          "axis": {
            "orient": "right",
            "title": "Price (USD)",
            "titleX": 97,
            "titleY": 187.5,
            "titleAngle": 90,
            "titleAlign": "center",
            "titleBaseline": "middle",
            "titleColor": "#0f9060",
            "titleFontSize": 13.5,
            "titleFontWeight": "bold",
            "values": [140, 160, 180, 200, 220],
            "labelExpr": "'$' + format(datum.value, '.2f')",
            "labelColor": "#1f9e7a",
            "labelFontSize": 13.5,
            "labelBaseline": "alphabetic",
            "labelOffset": -3,
            "labelPadding": 21,
            "ticks": false,
            "tickSize": 0,
            "domain": false,
            "grid": false
          }
        }
      }
    }
  ],
  "resolve": {"scale": {"y": "independent"}, "axis": {"y": "independent"}},
  "config": {
    "view": {"stroke": null},
    "font": "DejaVu Sans",
    "axis": {"labelFont": "DejaVu Sans", "titleFont": "DejaVu Sans"}
  }
}
